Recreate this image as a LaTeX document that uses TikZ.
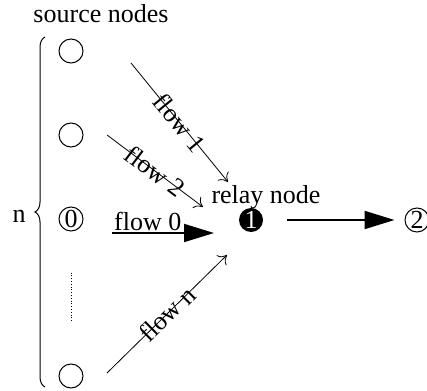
\documentclass[tikz,border=0pt]{standalone}
\usepackage{fontspec}
\setmainfont{Liberation Serif}
\usetikzlibrary{arrows.meta, decorations.pathreplacing}

\begin{document}
\begin{tikzpicture}[
  x=0.5pt, y=-0.5pt,
  font=\fontsize{13}{15}\selectfont,
  src/.style     = {draw, circle, line width=0.5pt,
                    minimum size=12pt, inner sep=0pt},
  relay/.style   = {circle, fill=black, text=white,
                    minimum size=12pt, inner sep=0pt},
  flowarr/.style = {-{To[length=4pt, width=7pt]}, line width=0.4pt},
  bigarr/.style  = {-{Triangle[length=15pt, width=9pt]}, line width=1pt},
  dotline/.style = {densely dotted, line width=0.4pt},
  lbl/.style     = {inner sep=1pt},
]
\useasboundingbox (0,0) rectangle (427,390);

%── Quellknoten und Relais ──────────────────────────────────────────────
\node[src]   (s1)    at (71,51)   {};
\node[src]   (s2)    at (71,135)  {};
\node[src]   (s0)    at (71,219)  {0};
\node[src]   (sn)    at (71,376)  {};
\node[relay] (relay) at (251,220) {1};
\node[src]   (dst)   at (417,220) {2};

%── Beschriftungen ──────────────────────────────────────────────────────
\node[lbl] (title) at (101,14)  {source nodes};
\node[lbl] (nlbl)  at (19,216)  {n};
\node[lbl] (rlbl)  at (266,197) {relay node};

%── Endpunkte der Flüsse ────────────────────────────────────────────────
\coordinate (f1s) at (131,63);  \coordinate (f1e) at (228,182);
\coordinate (f2s) at (107,135); \coordinate (f2e) at (203,207);
\coordinate (f0s) at (112,233); \coordinate (f0e) at (214,233);
\coordinate (fns) at (107,373); \coordinate (fne) at (227,255);

%── Klammer und Punkte ──────────────────────────────────────────────────
\draw[line width=0.5pt, decorate, decoration={brace, amplitude=5pt}]
  (45,387) -- (45,37);
\draw[dotline, shorten <=20.5pt, shorten >=21.5pt] (s0) -- (sn);

%── Flüsse ──────────────────────────────────────────────────────────────
\draw[flowarr] (f1s) -- node[lbl, sloped] {flow 1} (f1e);
\draw[flowarr] (f2s) -- node[lbl, sloped] {flow 2} (f2e);
\draw[bigarr]  (f0s) -- node[above, pos=0.35, inner sep=0.5pt] {flow 0} (f0e);
\draw[flowarr] (fns) -- node[lbl, sloped] {flow n} (fne);

\draw[bigarr, shorten <=12pt, shorten >=5pt] (relay) -- (dst);

\end{tikzpicture}
\end{document}
